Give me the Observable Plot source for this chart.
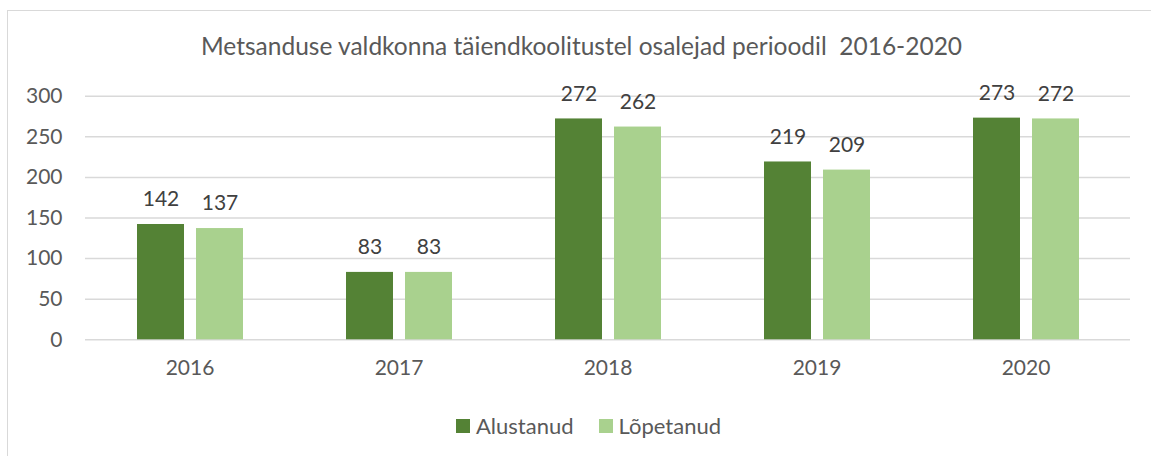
<!DOCTYPE html>
<html>
<head>
<meta charset="utf-8">
<script src="https://cdn.jsdelivr.net/npm/d3@7"></script>
<script src="https://cdn.jsdelivr.net/npm/@observablehq/plot@0.6"></script>
<style>
  html, body { margin: 0; padding: 0; background: #fff; }
  body { width: 1151px; height: 456px; overflow: hidden; position: relative; font-family: Lato, "Open Sans", sans-serif; color: #595959; }
  #frame { position: absolute; left: 7px; top: 10px; width: 1200px; height: 500px; border: 1.5px solid #d9d9d9; box-sizing: border-box; }
  #wrap { position: absolute; left: 0; top: 0; width: 1151px; }
  #title { height: 70px; box-sizing: border-box; padding-top: 32px; font-size: 24.5px; line-height: 27px; text-align: left; padding-left: 201px; white-space: pre; }
  #legend { display: flex; justify-content: flex-start; align-items: center; padding-left: 456px; margin-top: 12px; font-size: 22px; }
  .item { display: flex; align-items: center; margin-right: 25px; }
  .sw { width: 14px; height: 14px; margin-right: 6px; }
</style>
</head>
<body>
<div id="frame"></div>
<div id="wrap">
  <div id="title">Metsanduse valdkonna täiendkoolitustel osalejad perioodil  2016-2020</div>
  <div id="chart"></div>
  <div id="legend"></div>
</div>
<script>
const years = ["2016", "2017", "2018", "2019", "2020"];
const seriesNames = ["Alustanud", "Lõpetanud"];
const alustanud = [142, 83, 272, 219, 273];
const lopetanud = [137, 83, 262, 209, 272];
const colors = ["#548235", "#A9D18E"];
const yTicks = [0, 50, 100, 150, 200, 250, 300];

const data = [];
years.forEach((y, i) => {
  data.push({year: y, series: seriesNames[0], value: alustanud[i]});
  data.push({year: y, series: seriesNames[1], value: lopetanud[i]});
});

const font = "Lato, 'Open Sans', sans-serif";
const plot = Plot.plot({
  width: 1151,
  height: 330,
  marginLeft: 83,
  marginRight: 19,
  marginTop: 25.7,
  marginBottom: 60.7,
  style: {fontFamily: font, fontSize: "21px", color: "#595959", background: "transparent"},
  fx: {domain: years, padding: 0, label: null},
  x: {domain: seriesNames, paddingInner: 0.21, paddingOuter: 0.866, axis: null},
  y: {domain: [0, 300], axis: null},
  color: {domain: seriesNames, range: colors},
  marks: [
    Plot.ruleY(yTicks, {stroke: "#d9d9d9", strokeWidth: 1.5}),
    Plot.axisY(yTicks, {tickSize: 0, tickPadding: 23, label: null, fontSize: 21, fill: "#595959"}),
    Plot.axisFx({anchor: "bottom", tickSize: 0, tickPadding: 20, label: null, fontSize: 21, fill: "#595959"}),
    Plot.barY(data, {fx: "year", x: "series", y: "value", fill: "series"}),
    Plot.text(data, {fx: "year", x: "series", y: "value", text: d => String(d.value), dy: -25, fontSize: 21, fill: "#404040"})
  ]
});
document.getElementById("chart").appendChild(plot);

const legend = document.getElementById("legend");
seriesNames.forEach((s, i) => {
  const item = document.createElement("div");
  item.className = "item";
  const sw = document.createElement("div");
  sw.className = "sw";
  sw.style.background = colors[i];
  item.appendChild(sw);
  const t = document.createElement("span");
  t.textContent = s;
  item.appendChild(t);
  legend.appendChild(item);
});
</script>
</body>
</html>
